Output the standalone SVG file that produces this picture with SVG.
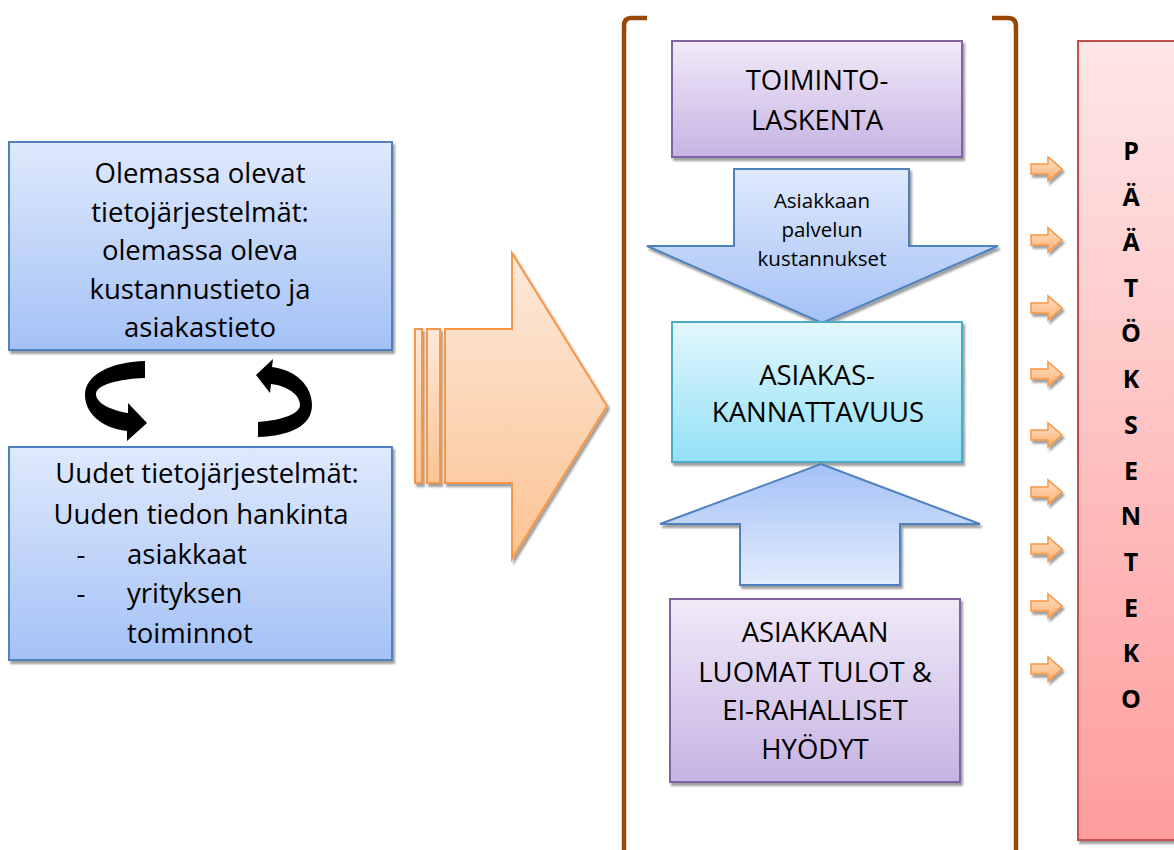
<svg xmlns="http://www.w3.org/2000/svg" width="1174" height="850" viewBox="0 0 1174 850">
<defs>
<linearGradient id="gBlue" x1="0" y1="0" x2="0" y2="1"><stop offset="0" stop-color="#dfe9fc"/><stop offset="1" stop-color="#a4c1f6"/></linearGradient>
<linearGradient id="gBlueUp" x1="0" y1="0" x2="0" y2="1"><stop offset="0" stop-color="#a4c1f6"/><stop offset="1" stop-color="#e2ecfd"/></linearGradient>
<linearGradient id="gPurple" x1="0" y1="0" x2="0" y2="1"><stop offset="0" stop-color="#f0eaf8"/><stop offset="1" stop-color="#c7b3e3"/></linearGradient>
<linearGradient id="gCyan" x1="0" y1="0" x2="0" y2="1"><stop offset="0" stop-color="#e3f7fd"/><stop offset="1" stop-color="#92e0f6"/></linearGradient>
<linearGradient id="gRed" x1="0" y1="0" x2="0" y2="1"><stop offset="0" stop-color="#fee6e6"/><stop offset="1" stop-color="#ff9d9d"/></linearGradient>
<linearGradient id="gOrange" x1="0" y1="0" x2="0" y2="1"><stop offset="0" stop-color="#fde9da"/><stop offset="1" stop-color="#fbc393"/></linearGradient>
<linearGradient id="gOrangeS" x1="0" y1="0" x2="0" y2="1"><stop offset="0" stop-color="#fde0c8"/><stop offset="1" stop-color="#fbb070"/></linearGradient>
<filter id="sh" x="-10%" y="-10%" width="130%" height="130%"><feDropShadow dx="2" dy="3" stdDeviation="0.8" flood-color="#000" flood-opacity="0.38"/></filter>
<path id="sa" d="M0,-5 L17,-5 L17,-12 L31,0 L17,12 L17,5 L0,5 Z"/>
</defs>
<style>
.t{font-family:"Open Sans","Liberation Sans",sans-serif;font-size:27.5px;fill:#000;text-anchor:middle}
.ts{font-family:"Open Sans","Liberation Sans",sans-serif;font-size:20.5px;fill:#000;text-anchor:middle}
.tb{font-family:"Open Sans","Liberation Sans",sans-serif;font-size:25px;font-weight:bold;fill:#000;text-anchor:middle}
.blue{fill:url(#gBlue);stroke:#4f81bd;stroke-width:2}
.purple{fill:url(#gPurple);stroke:#8064a2;stroke-width:2}
.cyan{fill:url(#gCyan);stroke:#4bacc6;stroke-width:2}
.bracket{fill:none;stroke:#974806;stroke-width:4.5}
.sarrow{fill:url(#gOrangeS);stroke:#f79646;stroke-width:1.5}
</style>

<g id="existing-systems">
<rect x="9" y="142" width="383" height="208" class="blue" filter="url(#sh)"/>
<text class="t" x="200" y="183">Olemassa olevat</text>
<text class="t" x="200" y="221.5">tietojärjestelmät:</text>
<text class="t" x="200" y="260">olemassa oleva</text>
<text class="t" x="200" y="298.5">kustannustieto ja</text>
<text class="t" x="200" y="337">asiakastieto</text>
</g>

<g id="cycle-arrows">
<path d="M145,361 L145,378 C118,379 96,385 96,394 C96,403 110,410 128,413 L128,403 L147,423 L127,441 L127,431 C100,428 85,412 85,395 C85,375 110,362 145,361 Z" fill="#000"/>
<path d="M256,375 L273,359 L272,367 C296,370 312,386 312,405 C312,426 290,436 258,437 L258,422 C285,420 300,413 300,405 C300,395 288,386 271,384 L270,393 Z" fill="#000"/>
</g>

<g id="new-systems">
<rect x="9" y="447" width="383" height="213" class="blue" filter="url(#sh)"/>
<text class="t" x="207" y="483">Uudet tietojärjestelmät:</text>
<text class="t" x="201" y="524">Uuden tiedon hankinta</text>
<text class="t" x="81" y="564">-</text>
<text class="t" x="127" y="564" style="text-anchor:start">asiakkaat</text>
<text class="t" x="81" y="603">-</text>
<text class="t" x="127" y="603" style="text-anchor:start">yrityksen</text>
<text class="t" x="127" y="643" style="text-anchor:start">toiminnot</text>
</g>

<g id="big-arrow" filter="url(#sh)">
<rect x="415" y="329" width="7" height="154" fill="url(#gOrange)" stroke="#f79646" stroke-width="2"/>
<rect x="427" y="329" width="13" height="154" fill="url(#gOrange)" stroke="#f79646" stroke-width="2"/>
<path d="M445,329 L512,329 L512,253 L607,406 L512,559 L512,483 L445,483 Z" fill="url(#gOrange)" stroke="#f79646" stroke-width="2"/>
</g>

<g id="brackets">
<path class="bracket" d="M647,18 L631,18 Q624,18 624,26 L624,860"/>
<path class="bracket" d="M992,18 L1008,18 Q1016,18 1016,26 L1016,860"/>
</g>

<g id="toimintolaskenta">
<rect x="672" y="41" width="290" height="116" class="purple" filter="url(#sh)"/>
<text class="t" x="817" y="90">TOIMINTO-</text>
<text class="t" x="817" y="130">LASKENTA</text>
</g>

<g id="cost-arrow">
<path d="M734,169 L909,169 L909,246 L998,246 L822,323 L647,246 L734,246 Z" class="blue" filter="url(#sh)"/>
<text class="ts" x="822" y="208">Asiakkaan</text>
<text class="ts" x="822" y="237">palvelun</text>
<text class="ts" x="822" y="266">kustannukset</text>
</g>

<g id="asiakaskannattavuus">
<rect x="672" y="322" width="290" height="140" class="cyan" filter="url(#sh)"/>
<text class="t" x="817" y="385">ASIAKAS-</text>
<text class="t" x="818" y="422">KANNATTAVUUS</text>
</g>

<g id="revenue-arrow">
<path d="M821,464 L980,524 L900,524 L900,585 L740,585 L740,524 L660,524 Z" fill="url(#gBlueUp)" stroke="#4f81bd" stroke-width="2" filter="url(#sh)"/>
</g>

<g id="tulot">
<rect x="670" y="599" width="290" height="183" class="purple" filter="url(#sh)"/>
<text class="t" x="815" y="642">ASIAKKAAN</text>
<text class="t" x="815" y="682">LUOMAT TULOT &amp;</text>
<text class="t" x="815" y="720">EI-RAHALLISET</text>
<text class="t" x="815" y="759">HYÖDYT</text>
</g>

<g id="small-arrows" filter="url(#sh)">
<use href="#sa" class="sarrow" x="1031" y="169"/>
<use href="#sa" class="sarrow" x="1031" y="240"/>
<use href="#sa" class="sarrow" x="1031" y="308"/>
<use href="#sa" class="sarrow" x="1031" y="374"/>
<use href="#sa" class="sarrow" x="1031" y="435"/>
<use href="#sa" class="sarrow" x="1031" y="492"/>
<use href="#sa" class="sarrow" x="1031" y="549"/>
<use href="#sa" class="sarrow" x="1031" y="606"/>
<use href="#sa" class="sarrow" x="1031" y="669"/>
</g>

<g id="paatoksenteko">
<rect x="1078" y="41" width="130" height="799" fill="url(#gRed)" stroke="#c0504d" stroke-width="2" filter="url(#sh)"/>
<text class="tb" x="1131" y="160">P</text>
<text class="tb" x="1131" y="206">Ä</text>
<text class="tb" x="1131" y="251">Ä</text>
<text class="tb" x="1131" y="297">T</text>
<text class="tb" x="1131" y="342">Ö</text>
<text class="tb" x="1131" y="388">K</text>
<text class="tb" x="1131" y="434">S</text>
<text class="tb" x="1131" y="480">E</text>
<text class="tb" x="1131" y="525">N</text>
<text class="tb" x="1131" y="571">T</text>
<text class="tb" x="1131" y="617">E</text>
<text class="tb" x="1131" y="662">K</text>
<text class="tb" x="1131" y="708">O</text>
</g>
</svg>
